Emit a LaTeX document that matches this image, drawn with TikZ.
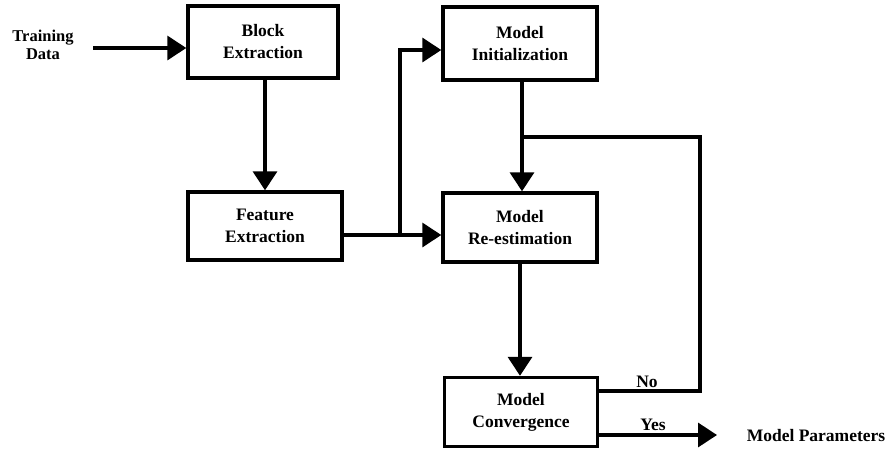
\documentclass[tikz,border=0pt]{standalone}
\usepackage{fontspec}
\setmainfont{Liberation Serif}
\usetikzlibrary{arrows.meta}
\begin{document}
\begin{tikzpicture}[x=1pt,y=-1pt,
  every node/.style={font=\bfseries\fontsize{17.5}{22}\selectfont},
  procbox/.style={draw, line width=3.4pt, inner sep=0pt, align=center},
  flow/.style={line width=3.4pt, -{Triangle[length=19pt,width=24pt]}},
  wire/.style={line width=3.4pt},
  lbl/.style={inner sep=0pt, align=center}]
  \useasboundingbox (0,0) rectangle (886,450);

  % processing blocks
  \node[procbox, minimum width=150pt, minimum height=72pt] (block) at (263,42) {Block\\Extraction};
  \node[procbox, minimum width=154pt, minimum height=68pt] (feat)  at (265,226) {Feature\\Extraction};
  \node[procbox, minimum width=154pt, minimum height=73pt] (init)  at (520,43.5) {Model\\Initialization};
  \node[procbox, minimum width=154pt, minimum height=69pt] (reest) at (520,227.5) {Model\\Re-estimation};
  \node[procbox, minimum width=153pt, minimum height=69pt] (conv)  at (521,412) {Model\\Convergence};

  % free labels
  \node[lbl, font=\bfseries\fontsize{16.5}{18}\selectfont] (train) at (43,45) {Training\\Data};
  \node[lbl] (params) at (816,436) {Model Parameters};
  \node[lbl] (no) at (647,382) {No};
  \node[lbl, anchor=base] (yes) at (653,430.5) {Yes};

  % routing points
  \coordinate (tin) at (93,48);
  \coordinate (split) at (400,235);
  \coordinate (loopr) at (700,137);
  \coordinate (yesend) at (717,435);

  % connectors
  \draw[flow] (tin) -- (tin -| block.west);
  \draw[flow] (block.south -| 265,0) -- (feat.north -| 265,0);
  \draw[flow] (feat.east |- split) -- (reest.west |- split);
  \draw[flow] (split) -- (split |- 0,50) -- (init.west |- 0,50);
  \draw[flow] (init.south -| 522,0) -- (reest.north -| 522,0);
  \draw[flow] (reest.south) -- (conv.north -| reest.south);
  \draw[wire] (conv.east |- 0,391) -- (loopr |- 0,391) -- (loopr) -- (loopr -| 522,0);
  \draw[flow] (conv.east |- yesend) -- (yesend);
\end{tikzpicture}
\end{document}
